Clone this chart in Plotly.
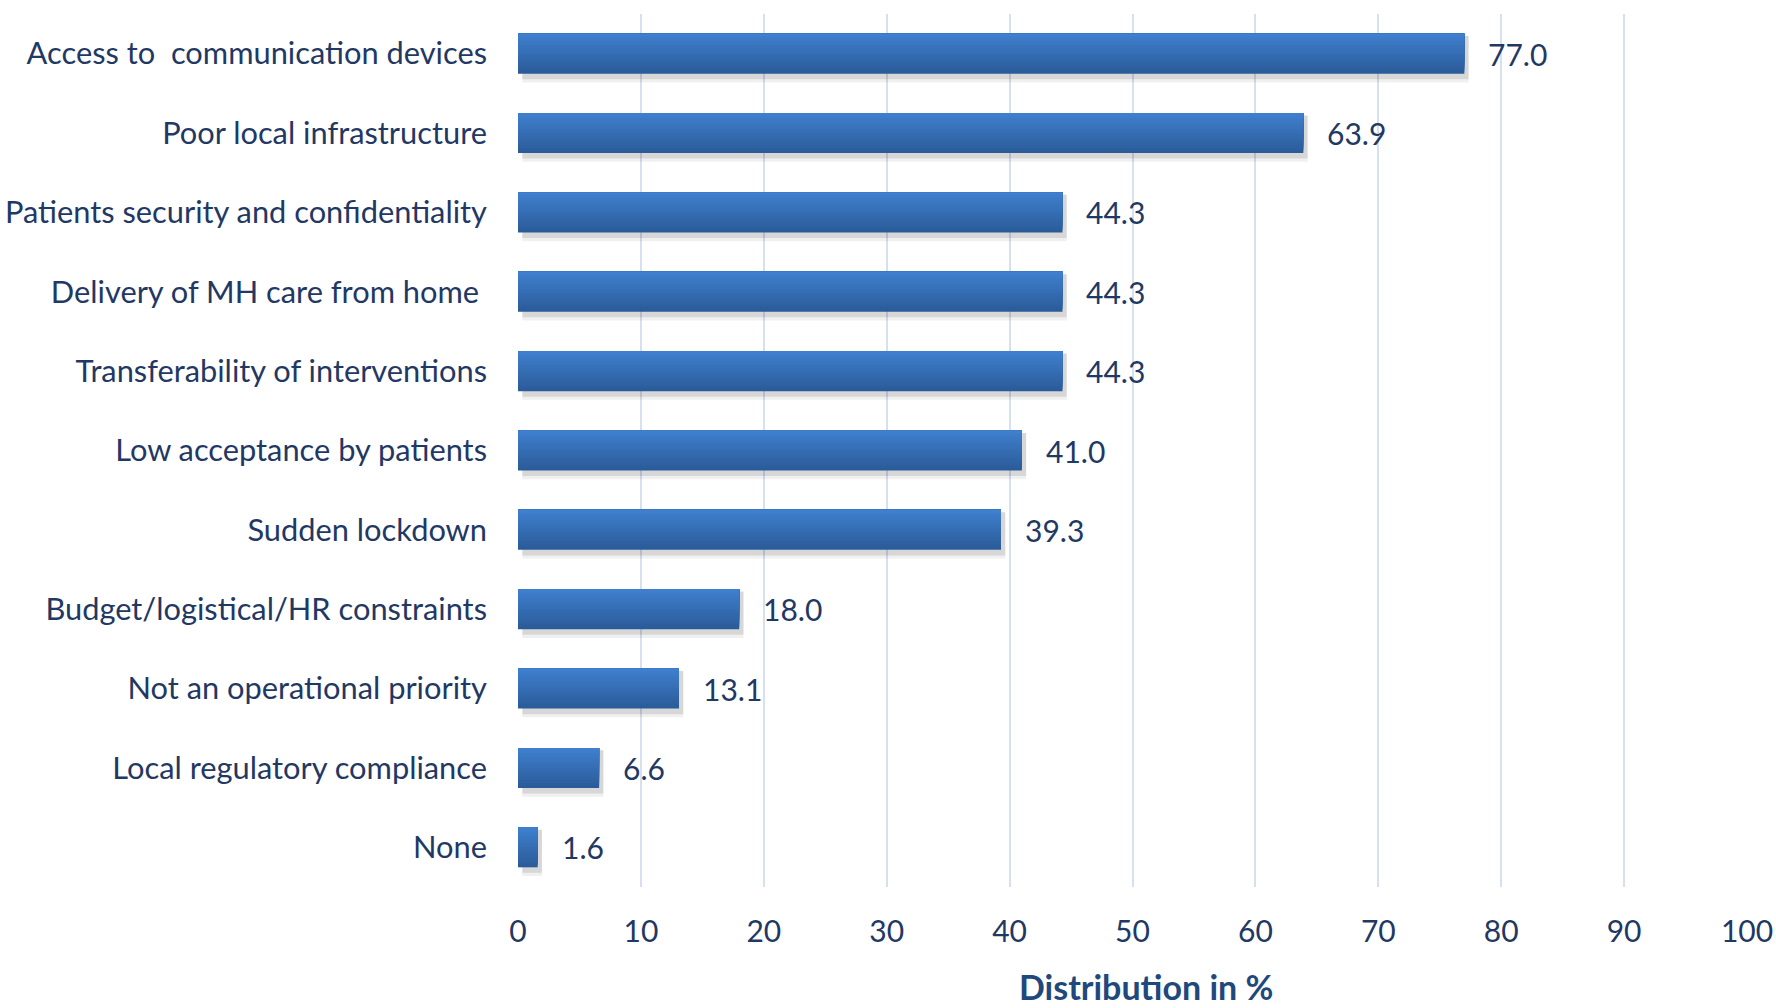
import plotly.graph_objects as go

# ---- data ----
categories = [
    "Access to  communication devices",
    "Poor local infrastructure",
    "Patients security and confidentiality",
    "Delivery of MH care from home ",
    "Transferability of interventions",
    "Low acceptance by patients",
    "Sudden lockdown",
    "Budget/logistical/HR constraints",
    "Not an operational priority",
    "Local regulatory compliance",
    "None",
]
values = [77.0, 63.9, 44.3, 44.3, 44.3, 41.0, 39.3, 18.0, 13.1, 6.6, 1.6]
x_ticks = [0, 10, 20, 30, 40, 50, 60, 70, 80, 90, 100]
axis_title = "Distribution in %"

# ---- style ----
TEXT = "#1F3864"
FONT = "Lato"
TOP = (63, 127, 205)
BOTTOM = (43, 92, 154)
BAR_W = 0.504
N_LAYERS = 16

fig = go.Figure()

# soft shadow below each bar
for extra, alpha in [(0.11, 0.06), (0.07, 0.10)]:
    fig.add_trace(go.Bar(
        y=categories, x=values, orientation="h", base=0.35,
        width=BAR_W + extra - 0.03, offset=-BAR_W / 2 + 0.03,
        marker=dict(color=f"rgba(0,0,0,{alpha})", line=dict(width=0)),
        hoverinfo="skip", showlegend=False,
    ))

# vertical gradient (light top -> dark bottom) built from overlapping layers
for k in range(N_LAYERS):
    t = k / (N_LAYERS - 1)
    c = tuple(round(BOTTOM[i] + (TOP[i] - BOTTOM[i]) * t) for i in range(3))
    fig.add_trace(go.Bar(
        y=categories, x=values, orientation="h",
        width=BAR_W * (1 - k / N_LAYERS), offset=-BAR_W / 2,
        marker=dict(color=f"rgb{c}", line=dict(width=0)),
        hoverinfo="skip" if k else "x+y", showlegend=False,
    ))

# value labels
for cat, v in zip(categories, values):
    fig.add_annotation(
        x=v, y=cat, xref="x", yref="y", text=f"{v:.1f}",
        xanchor="left", yanchor="middle", xshift=22, showarrow=False,
        font=dict(family=FONT, size=30, color=TEXT),
    )

# axis title
fig.add_annotation(
    x=0.511, y=-0.114, xref="paper", yref="paper", text=f"<b>{axis_title}</b>",
    xanchor="center", yanchor="middle", showarrow=False,
    font=dict(family=FONT, size=34, color="#1F497D"),
)

fig.update_layout(
    width=1776, height=1008,
    margin=dict(l=518, r=29, t=14, b=121, autoexpand=False),
    barmode="overlay",
    plot_bgcolor="white", paper_bgcolor="white",
    font=dict(family=FONT, size=30, color=TEXT),
    xaxis=dict(
        range=[0, 100], tickvals=x_ticks, ticktext=[str(t) for t in x_ticks],
        showgrid=True, gridcolor="#D6E0EE", gridwidth=2,
        zeroline=False, showline=False, ticks="",
        ticklabelstandoff=24, automargin=False,
        tickfont=dict(family=FONT, size=30, color=TEXT),
        fixedrange=True,
    ),
    yaxis=dict(
        type="category", categoryorder="array", categoryarray=categories,
        range=[len(categories) - 0.5, -0.5],
        showgrid=False, zeroline=False, showline=False, ticks="",
        ticklabelstandoff=30, automargin=False,
        tickfont=dict(family=FONT, size=30.8, color=TEXT),
        fixedrange=True,
    ),
)

fig.write_html(
    "out.html",
    config={"displayModeBar": False},
    post_script="document.body.style.margin='0';document.body.style.padding='0';",
)
